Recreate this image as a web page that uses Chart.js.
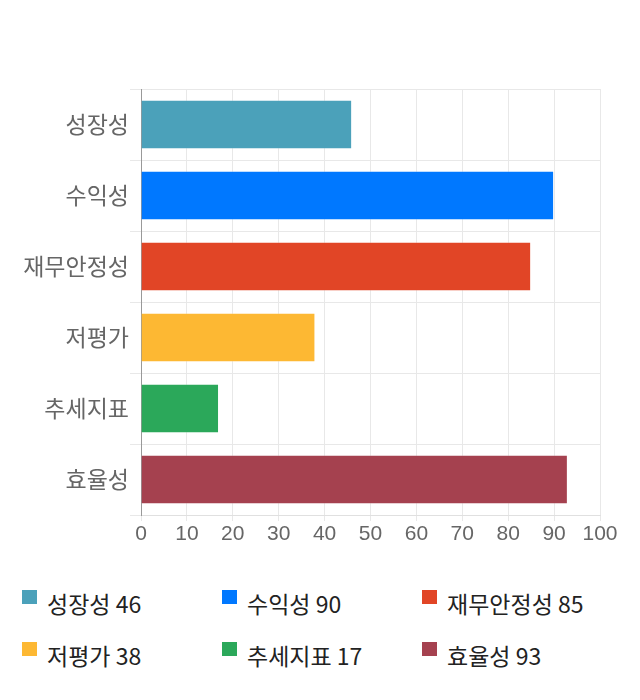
<!DOCTYPE html>
<html>
<head>
<meta charset="utf-8">
<script src="https://cdn.jsdelivr.net/npm/chart.js@4.4.0/dist/chart.umd.min.js"></script>
<style>
  body { margin: 0; background: #fff; font-family: "Noto Sans CJK KR", sans-serif; }
  #wrap { width: 640px; height: 560px; position: relative; }
  #legend { position: absolute; top: 580px; left: 0; width: 640px; }
  .item { position: absolute; font-size: 23px; color: #222; white-space: nowrap; line-height: 28px; }
  .item span { position: absolute; left: 0; top: 1px; width: 15px; height: 14px; }
  .item b { font-weight: normal; margin-left: 25px; }
</style>
</head>
<body>
<div id="wrap"><canvas id="chart" width="640" height="560"></canvas></div>
<div id="legend"></div>
<script>
const categories = ["성장성", "수익성", "재무안정성", "저평가", "추세지표", "효율성"];
const scores = [46, 90, 85, 38, 17, 93];
const colors = ["#4BA1BA", "#0078FF", "#E14526", "#FDB833", "#2BA85A", "#A5414F"];
const xTicks = [0, 10, 20, 30, 40, 50, 60, 70, 80, 90, 100];

const ctx = document.getElementById("chart").getContext("2d");
const chart = new Chart(ctx, {
  type: "bar",
  data: {
    labels: categories,
    datasets: [{
      data: scores,
      backgroundColor: colors,
      borderColor: "rgba(255,255,255,0.25)",
      borderWidth: 1,
      categoryPercentage: 0.7,
      barPercentage: 1
    }]
  },
  options: {
    indexAxis: "y",
    responsive: false,
    animation: false,
    layout: { padding: { top: 89, right: 40, left: 0, bottom: 0 } },
    plugins: { legend: { display: false }, tooltip: { enabled: false } },
    scales: {
      x: {
        min: 0,
        max: 100,
        afterBuildTicks: function(scale) {
          scale.ticks = xTicks.map(v => ({ value: v }));
        },
        afterFit: function(scale) { scale.height = 45; },
        grid: { color: "#e8e8e8", tickLength: 6 },
        border: { color: "#e0e0e0" },
        ticks: {
          color: "#666",
          padding: 1,
          font: { family: "'Liberation Sans', 'Noto Sans CJK KR'", size: 21 }
        }
      },
      y: {
        afterFit: function(scale) { scale.width = 141; },
        grid: { color: "#e8e8e8", tickLength: 11 },
        border: { color: "#999" },
        ticks: {
          color: "#666",
          padding: 1,
          font: { family: "'Noto Sans CJK KR'", size: 23 }
        }
      }
    }
  }
});

// legend below the chart, 3 columns
const legend = document.getElementById("legend");
categories.forEach((name, i) => {
  const div = document.createElement("div");
  div.className = "item";
  div.style.left = (22 + (i % 3) * 200) + "px";
  div.style.top = (Math.floor(i / 3) * 52 + 9) + "px";
  div.innerHTML = '<span style="background:' + colors[i] + '"></span><b>' + name + " " + scores[i] + "</b>";
  legend.appendChild(div);
});
</script>
</body>
</html>
